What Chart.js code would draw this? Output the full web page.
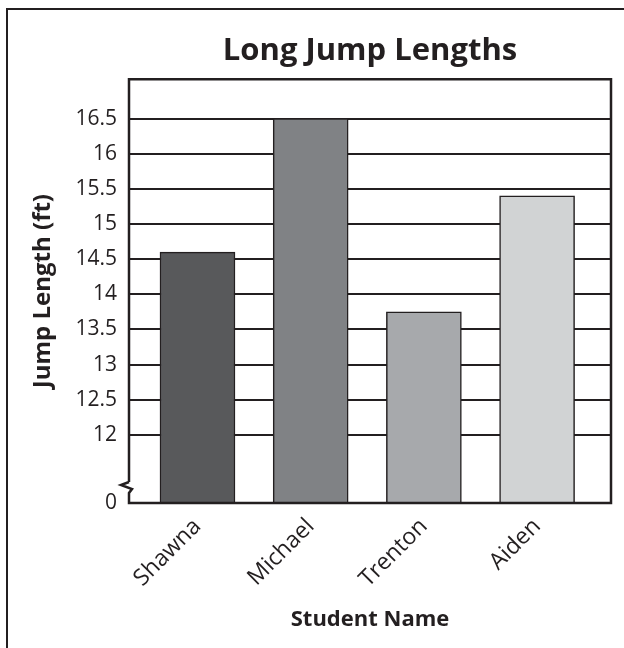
<!DOCTYPE html>
<html>
<head>
<meta charset="utf-8">
<script src="https://cdn.jsdelivr.net/npm/chart.js@4.4.1/dist/chart.umd.min.js"></script>
<style>
    html, body { margin: 0; padding: 0; background: #fff; }
    #wrap { position: relative; width: 624px; height: 648px; overflow: hidden; }
    #frame { position: absolute; left: 6px; top: 8px; width: 700px; height: 700px;
             border-left: 2.5px solid #231f20; border-top: 2.5px solid #231f20; }
    #chart { position: absolute; left: 0; top: 0; }
</style>
</head>
<body>
<div id="wrap">
    <div id="frame"></div>
    <canvas id="chart" width="624" height="648"></canvas>
</div>
<script>
// Dados do gráfico
const students = ['Shawna', 'Michael', 'Trenton', 'Aiden'];
const jumpLengths = [14.6, 16.5, 13.75, 15.4];
const barColors = ['#58595b', '#808285', '#a7a9ac', '#d1d3d4'];

// eixo Y quebrado: o piso do eixo representa o 0
const yAxisFloor = 11.03;
const yAxisCeil = 17.06;
const yTickValues = [yAxisFloor, 12, 12.5, 13, 13.5, 14, 14.5, 15, 15.5, 16, 16.5];
const yTickLabels = ['0', '12', '12.5', '13', '13.5', '14', '14.5', '15', '15.5', '16', '16.5'];

const INK = '#231f20';
const FONT = "'Open Sans', 'Noto Sans', sans-serif";

// Moldura do gráfico com a quebra em zigue-zague no eixo Y
const framePlugin = {
    id: 'plotFrame',
    afterDatasetsDraw(chart) {
        const { ctx, chartArea: a } = chart;
        ctx.save();
        ctx.strokeStyle = INK;
        ctx.lineWidth = 2.5;
        ctx.lineJoin = 'miter';
        ctx.beginPath();
        ctx.moveTo(a.left, a.bottom - 21);
        ctx.lineTo(a.left, a.top);
        ctx.lineTo(a.right, a.top);
        ctx.lineTo(a.right, a.bottom);
        ctx.lineTo(a.left, a.bottom);
        ctx.lineTo(a.left, a.bottom - 10);
        ctx.lineTo(a.left + 3, a.bottom - 14);
        ctx.lineTo(a.left - 8, a.bottom - 18);
        ctx.lineTo(a.left, a.bottom - 21);
        ctx.stroke();
        ctx.restore();
    }
};

new Chart(document.getElementById('chart'), {
    type: 'bar',
    data: {
        datasets: [{
            data: jumpLengths.map((v, i) => ({ x: i, y: v })),
            backgroundColor: barColors,
            borderColor: INK,
            borderWidth: 1.5,
            borderSkipped: 'start',
            barThickness: 75,
            base: yAxisFloor
        }]
    },
    plugins: [framePlugin],
    options: {
        responsive: false,
        animation: false,
        layout: { padding: { left: 29, right: 13, top: 0, bottom: 0 } },
        plugins: {
            legend: { display: false },
            tooltip: { enabled: false },
            title: {
                display: true,
                text: 'Long Jump Lengths',
                fullSize: false,
                color: INK,
                font: { family: FONT, size: 31, weight: 'bold' },
                padding: { top: 33, bottom: 9 }
            }
        },
        scales: {
            x: {
                type: 'linear',
                offset: false,
                bounds: 'data',
                min: -0.605,
                max: 3.653,
                afterBuildTicks: (scale) => { scale.ticks = students.map((_, i) => ({ value: i })); },
                afterFit: (scale) => { scale.height = 145; },
                grid: { display: false, drawTicks: false },
                border: { display: false },
                ticks: {
                    color: INK,
                    font: { family: FONT, size: 23 },
                    minRotation: 45,
                    maxRotation: 45,
                    padding: 10,
                    callback: (v) => students[v]
                },
                title: {
                    display: true,
                    text: 'Student Name',
                    color: INK,
                    font: { family: FONT, size: 22, weight: 'bold' },
                    padding: { top: 0, bottom: 15 }
                }
            },
            y: {
                min: yAxisFloor,
                max: yAxisCeil,
                afterBuildTicks: (scale) => { scale.ticks = yTickValues.map(v => ({ value: v })); },
                afterFit: (scale) => { scale.width = 100; },
                grid: { color: INK, lineWidth: 2, drawTicks: false },
                border: { display: false },
                ticks: {
                    color: INK,
                    font: { family: FONT, size: 21 },
                    padding: 12,
                    callback: (v) => yTickLabels[yTickValues.indexOf(v)]
                },
                title: {
                    display: true,
                    text: 'Jump Length (ft)',
                    color: INK,
                    font: { family: FONT, size: 24, weight: 'bold' },
                    padding: 0
                }
            }
        }
    }
});
</script>
</body>
</html>
